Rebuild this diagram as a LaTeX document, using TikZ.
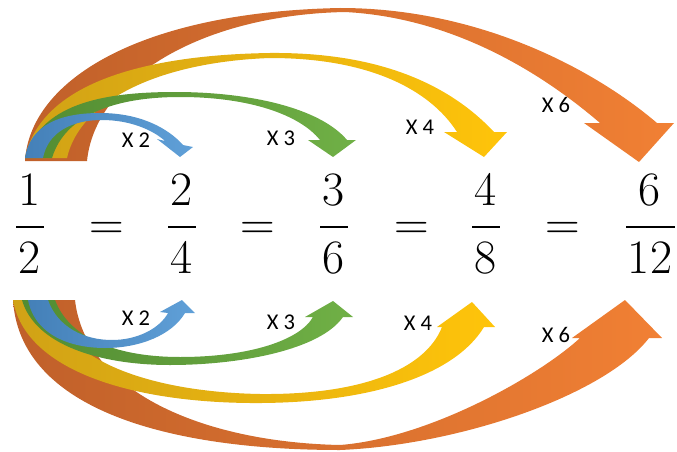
\documentclass[tikz,border=0pt]{standalone}
\usepackage{fontspec}
\newfontfamily\lblfont{Carlito}
\definecolor{oD}{RGB}{192,96,42}
\definecolor{oL}{RGB}{241,128,52}
\definecolor{yD}{RGB}{208,162,22}
\definecolor{yL}{RGB}{255,196,10}
\definecolor{gD}{RGB}{82,140,50}
\definecolor{gL}{RGB}{112,176,70}
\definecolor{bD}{RGB}{68,128,184}
\definecolor{bL}{RGB}{96,160,216}
\tikzset{
  digit/.style={inner sep=0pt, anchor=base, font=\fontsize{48}{56}\selectfont},
  fracbar/.style={line width=2.6pt},
  lbl/.style={inner sep=0pt, font=\lblfont\fontsize{22.5}{26}\selectfont},
  orangeribbon/.style={left color=oD, right color=oL},
  yellowribbon/.style={left color=yD, right color=yL},
  greenribbon/.style={left color=gD, right color=gL},
  blueribbon/.style={left color=bD, right color=bL}
}
\begin{document}
\begin{tikzpicture}[x=1pt,y=-1pt]
\useasboundingbox (0,0) rectangle (677,452);

% ---------- top arrows (back to front) ----------
\shade[orangeribbon] (25,161) .. controls (30,80) and (140,12) .. (340,8)
  .. controls (480,8) and (595,70) .. (657,123) -- (674,123) -- (639,162) -- (584,123) -- (600,123)
  .. controls (550,80) and (460,18) .. (345,12) .. controls (200,15) and (95,80) .. (87,161) -- cycle;
\shade[yellowribbon] (25,158) .. controls (40,85) and (140,55) .. (270,53)
  .. controls (380,52) and (450,85) .. (494,132) -- (507,132) -- (484,157) -- (444,132) -- (457,132)
  .. controls (430,90) and (370,58) .. (270,58) .. controls (160,62) and (80,100) .. (67,158) -- cycle;
\shade[greenribbon] (25,158) .. controls (40,105) and (100,92) .. (175,92)
  .. controls (250,92) and (320,108) .. (347,140) -- (356,140) -- (333,157) -- (308,140) -- (320,140)
  .. controls (300,115) and (250,97) .. (180,97) .. controls (115,97) and (65,115) .. (52,158) -- cycle;
\shade[blueribbon] (25,158) .. controls (30,125) and (60,113) .. (100,113)
  .. controls (140,113) and (168,128) .. (183,145) -- (193,147) -- (180,157) -- (157,139) -- (165,141)
  .. controls (153,130) and (130,120) .. (102,120) .. controls (72,120) and (48,132) .. (43,158) -- cycle;

% ---------- bottom arrows (back to front) ----------
\shade[orangeribbon] (13,300) .. controls (20,410) and (170,450) .. (340,450)
  .. controls (460,445) and (605,395) .. (649,338) -- (662,338) -- (625,300) -- (572,338) -- (580,338)
  .. controls (540,375) and (430,438) .. (340,445) .. controls (200,442) and (85,390) .. (75,300) -- cycle;
\shade[yellowribbon] (13,300) .. controls (25,370) and (130,402) .. (250,403)
  .. controls (370,404) and (455,375) .. (484,327) -- (495,327) -- (472,302) -- (437,327) -- (442,327)
  .. controls (425,370) and (360,395) .. (260,394) .. controls (150,392) and (60,360) .. (50,300) -- cycle;
\shade[greenribbon] (22,300) .. controls (35,345) and (100,365) .. (170,365)
  .. controls (240,365) and (320,350) .. (343,317) -- (353,317) -- (333,301) -- (305,317) -- (313,317)
  .. controls (300,340) and (250,357) .. (180,357) .. controls (120,357) and (70,340) .. (55,300) -- cycle;
\shade[blueribbon] (28,300) .. controls (35,335) and (70,348) .. (105,348)
  .. controls (140,348) and (172,335) .. (185,313) -- (195,313) -- (182,300) -- (160,312) -- (168,313)
  .. controls (160,328) and (138,340) .. (112,340) .. controls (85,340) and (58,328) .. (48,300) -- cycle;

% ---------- fractions ----------
\node[digit] (n1) at (30,205) {1};
\node[digit] (d1) at (30,273) {2};
\draw[fracbar] (16,227) -- (44,227);
\node[digit] (e1) at (107,239) {=};
\node[digit] (n2) at (182,205) {2};
\node[digit] (d2) at (182,273) {4};
\draw[fracbar] (168,227) -- (196,227);
\node[digit] (e2) at (258,239) {=};
\node[digit] (n3) at (334,205) {3};
\node[digit] (d3) at (334,273) {6};
\draw[fracbar] (320,227) -- (348,227);
\node[digit] (e3) at (412,239) {=};
\node[digit] (n4) at (486,205) {4};
\node[digit] (d4) at (486,273) {8};
\draw[fracbar] (472,227) -- (500,227);
\node[digit] (e4) at (563,239) {=};
\node[digit] (n5) at (650,205) {6};
\node[digit] (d5) at (650,273) {12};
\draw[fracbar] (626,227) -- (675,227);

% ---------- labels ----------
\node[lbl] (t2) at (136,140) {X 2};
\node[lbl] (t3) at (281,138) {X 3};
\node[lbl] (t4) at (420,127) {X 4};
\node[lbl] (t6) at (556,105) {X 6};
\node[lbl] (b2) at (136,318) {X 2};
\node[lbl] (b3) at (281,322) {X 3};
\node[lbl] (b4) at (418,323) {X 4};
\node[lbl] (b6) at (556,335) {X 6};
\end{tikzpicture}
\end{document}
